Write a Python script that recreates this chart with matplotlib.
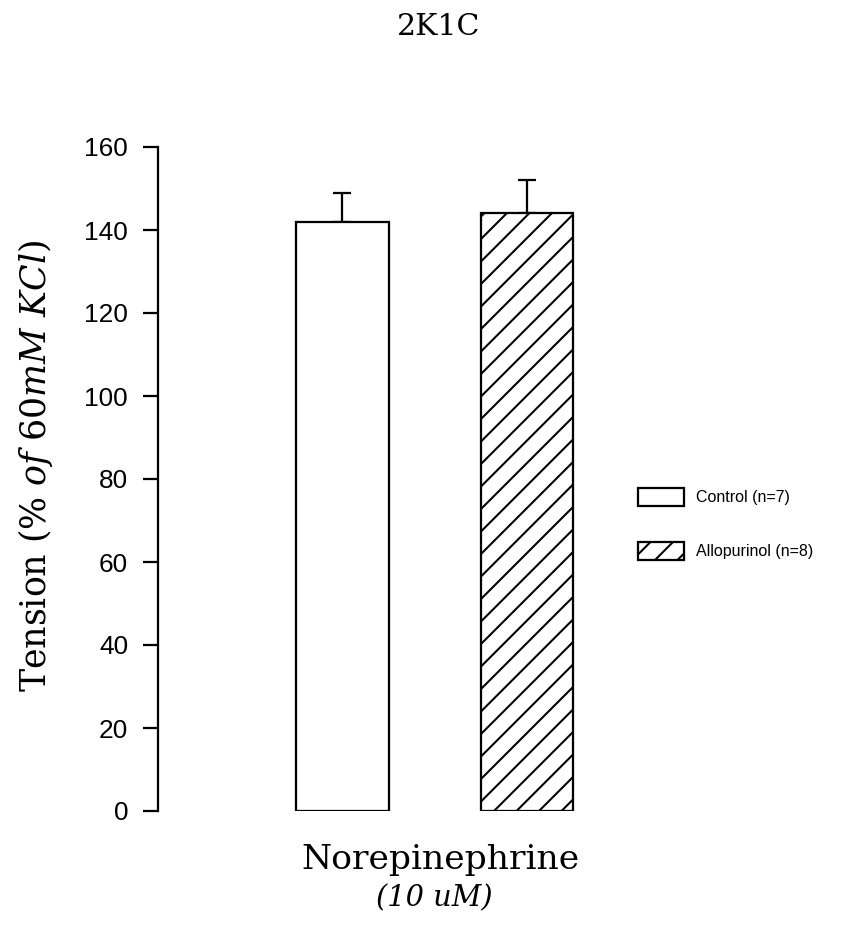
import matplotlib
matplotlib.use("Agg")
import matplotlib.pyplot as plt

# data
groups = ["Control (n=7)", "Allopurinol (n=8)"]
means = [142, 144]
sem = [7, 8]
hatches = ["", "//"]
yticks = [0, 20, 40, 60, 80, 100, 120, 140, 160]

plt.rcParams['mathtext.fontset'] = 'custom'
plt.rcParams['mathtext.rm'] = 'DejaVu Serif'
plt.rcParams['mathtext.it'] = 'DejaVu Serif:italic'
plt.rcParams['hatch.linewidth'] = 1.1

DPI = 135
fig = plt.figure(figsize=(850 / DPI, 927 / DPI), dpi=DPI)
ax = fig.add_axes([158 / 850, 116 / 927, 461 / 850, 664 / 927])

x = list(range(len(groups)))
bars = ax.bar(x, means, width=0.5, color="white", edgecolor="black",
              linewidth=1.2, zorder=2, label=groups)
for b, h in zip(bars, hatches):
    b.set_hatch(h)
ax.errorbar(x, means, yerr=[[0] * len(sem), sem], fmt="none", ecolor="black",
            elinewidth=1.2, capsize=5, capthick=1.2, zorder=1)

ax.set_xlim(-1, 1.5)
ax.set_ylim(0, 160)
ax.set_yticks(yticks)
ax.set_xticks([])
for s in ["top", "right", "bottom"]:
    ax.spines[s].set_visible(False)
ax.spines["left"].set_linewidth(1.2)
ax.tick_params(axis="y", direction="out", length=8, width=1.2, pad=8,
               labelsize=14)
for lab in ax.get_yticklabels():
    lab.set_family("Liberation Sans")

ax.set_ylabel(r"Tension $\mathit{(\%\ of\ 60mM\ KCl)}$", fontsize=18.5,
              family="DejaVu Serif")
ax.yaxis.set_label_coords(-0.223, 0.52)

ax.text(0.53, -0.05, "Norepinephrine", transform=ax.get_xaxis_transform(),
        ha="center", va="top", fontsize=18.4, family="DejaVu Serif")
ax.text(0.5, -0.11, "(10 uM)", transform=ax.get_xaxis_transform(),
        ha="center", va="top", fontsize=15.4, family="DejaVu Serif",
        style="italic")

fig.text(439 / 850, 1 - 27 / 927, "2K1C", ha="center", va="center",
         fontsize=16, family="DejaVu Serif")

leg = fig.legend(handles=list(bars), labels=groups, loc="center left",
                 bbox_to_anchor=(638 / 850, 1 - 524 / 927), frameon=False,
                 prop={"family": "Liberation Sans", "size": 8.5},
                 handlelength=2.9, handleheight=1.45, labelspacing=2.2,
                 handletextpad=0.75, borderpad=0, borderaxespad=0)

fig.savefig("out.png", dpi=DPI)
